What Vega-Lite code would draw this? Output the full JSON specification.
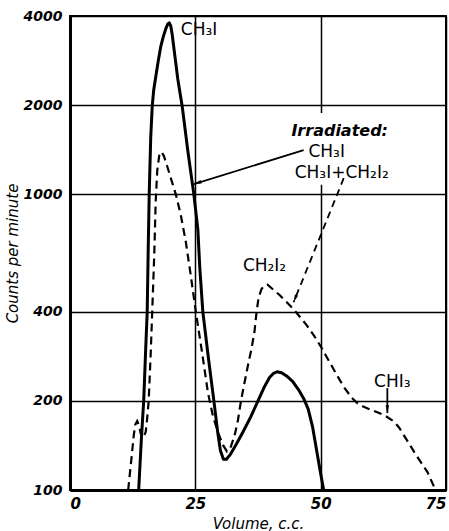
{
  "$schema": "https://vega.github.io/schema/vega-lite/v6.json",
  "width": 376,
  "height": 474,
  "autosize": {"type": "none"},
  "padding": {"left": 70, "top": 16, "right": 3, "bottom": 41},
  "background": "white",
  "config": {
    "view": {"stroke": "black", "strokeWidth": 2},
    "font": "DejaVu Sans",
    "axis": {
      "grid": true, "gridColor": "black", "gridOpacity": 1, "gridWidth": 1.5,
      "domain": true, "domainColor": "black", "domainWidth": 3,
      "ticks": false,
      "labelFont": "DejaVu Sans", "labelFontSize": 14, "labelFontWeight": "bold", "labelFontStyle": "italic", "labelColor": "black",
      "titleFont": "DejaVu Sans", "titleFontSize": 15, "titleFontWeight": "normal", "titleFontStyle": "italic", "titleColor": "black"
    }
  },
  "datasets": {
    "solid": [
      {"v": 13.7, "c": 100}, {"v": 14.2, "c": 145}, {"v": 14.7, "c": 200}, {"v": 15.1, "c": 300},
      {"v": 15.4, "c": 400}, {"v": 15.6, "c": 650}, {"v": 15.8, "c": 1000}, {"v": 16.1, "c": 1550},
      {"v": 16.4, "c": 1980}, {"v": 16.7, "c": 2250}, {"v": 17.1, "c": 2490}, {"v": 17.6, "c": 2820},
      {"v": 18.1, "c": 3150}, {"v": 18.6, "c": 3400}, {"v": 19.1, "c": 3620}, {"v": 19.5, "c": 3760},
      {"v": 19.8, "c": 3790}, {"v": 20.1, "c": 3700}, {"v": 20.4, "c": 3450}, {"v": 20.9, "c": 2950},
      {"v": 21.5, "c": 2450}, {"v": 22.4, "c": 1970}, {"v": 23.5, "c": 1400}, {"v": 24.7, "c": 1000},
      {"v": 25.5, "c": 760}, {"v": 25.9, "c": 560}, {"v": 26.5, "c": 400}, {"v": 27.6, "c": 280},
      {"v": 28.7, "c": 200}, {"v": 29.5, "c": 155}, {"v": 30.0, "c": 136}, {"v": 30.6, "c": 127},
      {"v": 31.2, "c": 127}, {"v": 32.0, "c": 132}, {"v": 33.2, "c": 143}, {"v": 34.5, "c": 157},
      {"v": 36.0, "c": 176}, {"v": 37.5, "c": 200}, {"v": 38.7, "c": 222}, {"v": 39.8, "c": 240},
      {"v": 40.6, "c": 248}, {"v": 41.3, "c": 251}, {"v": 42.2, "c": 249}, {"v": 43.2, "c": 243},
      {"v": 44.4, "c": 233}, {"v": 45.6, "c": 218}, {"v": 46.6, "c": 204}, {"v": 47.5, "c": 188},
      {"v": 48.4, "c": 163}, {"v": 49.2, "c": 136}, {"v": 49.9, "c": 116}, {"v": 50.6, "c": 100}
    ],
    "dashed": [
      {"v": 11.6, "c": 100}, {"v": 12.2, "c": 125}, {"v": 12.7, "c": 152}, {"v": 13.0, "c": 166},
      {"v": 13.4, "c": 171}, {"v": 13.8, "c": 165}, {"v": 14.1, "c": 155}, {"v": 14.6, "c": 150},
      {"v": 15.1, "c": 157}, {"v": 15.4, "c": 175}, {"v": 15.7, "c": 200}, {"v": 16.1, "c": 290},
      {"v": 16.4, "c": 400}, {"v": 16.8, "c": 620}, {"v": 17.1, "c": 950}, {"v": 17.4, "c": 1200},
      {"v": 17.8, "c": 1350}, {"v": 18.2, "c": 1390}, {"v": 18.7, "c": 1350}, {"v": 19.4, "c": 1240},
      {"v": 20.2, "c": 1120}, {"v": 21.1, "c": 1000}, {"v": 22.1, "c": 850}, {"v": 23.1, "c": 690},
      {"v": 24.1, "c": 530}, {"v": 25.1, "c": 400}, {"v": 26.3, "c": 295}, {"v": 27.5, "c": 214},
      {"v": 28.5, "c": 178}, {"v": 29.5, "c": 157}, {"v": 30.5, "c": 142}, {"v": 31.3, "c": 135},
      {"v": 32.0, "c": 139}, {"v": 32.8, "c": 152}, {"v": 33.5, "c": 172}, {"v": 34.1, "c": 200},
      {"v": 34.8, "c": 230}, {"v": 35.5, "c": 264}, {"v": 36.2, "c": 300}, {"v": 36.8, "c": 343},
      {"v": 37.2, "c": 398}, {"v": 37.6, "c": 445}, {"v": 38.2, "c": 478}, {"v": 38.8, "c": 492},
      {"v": 39.4, "c": 494}, {"v": 40.4, "c": 478}, {"v": 41.8, "c": 456}, {"v": 43.2, "c": 432},
      {"v": 44.5, "c": 410}, {"v": 45.8, "c": 386}, {"v": 47.2, "c": 361}, {"v": 48.7, "c": 332},
      {"v": 50.2, "c": 302}, {"v": 51.7, "c": 272}, {"v": 53.2, "c": 245}, {"v": 54.7, "c": 222},
      {"v": 56.2, "c": 205}, {"v": 57.4, "c": 196}, {"v": 58.6, "c": 191}, {"v": 60.6, "c": 185},
      {"v": 62.7, "c": 179}, {"v": 64.7, "c": 170}, {"v": 65.7, "c": 162}, {"v": 66.6, "c": 153},
      {"v": 67.7, "c": 143}, {"v": 68.7, "c": 134}, {"v": 70.0, "c": 124}, {"v": 71.3, "c": 115},
      {"v": 72.9, "c": 100}
    ],
    "labels": [
      {"id": "peak", "v": 22.1, "c": 3595, "t": "CH₃I"},
      {"id": "irr", "v": 53.8, "c": 1636, "t": "Irradiated:"},
      {"id": "l1", "v": 51.2, "c": 1387, "t": "CH₃I"},
      {"id": "l2", "v": 54.2, "c": 1178, "t": "CH₃I+CH₂I₂"},
      {"id": "ch2", "v": 38.8, "c": 571, "t": "CH₂I₂"},
      {"id": "chi3", "v": 64.3, "c": 232, "t": "CHI₃"}
    ],
    "box": [{"v": 43.2, "v2": 65.3, "c": 1880, "c2": 1075}],
    "arrows": [
      {"id": "a1", "v": 46.6, "c": 1408, "v2": 24.7, "c2": 1081},
      {"id": "a2", "v": 54.6, "c": 1132, "v2": 44.6, "c2": 431},
      {"id": "a3", "v": 63.3, "c": 221, "v2": 63.3, "c2": 182}
    ]
  },
  "encoding": {
    "x": {"field": "v", "type": "quantitative", "scale": {"domain": [0, 75], "nice": false, "zero": false},
      "axis": {"values": [0, 25, 50, 75], "title": "Volume, c.c.", "labelPadding": 6, "labelFontSize": 15, "titlePadding": 5}},
    "y": {"field": "c", "type": "quantitative", "scale": {"type": "log", "domain": [100, 4000], "nice": false},
      "axis": {"values": [100, 200, 400, 1000, 2000, 4000], "format": "d", "title": "Counts per minute", "labelPadding": 8, "titlePadding": 3}}
  },
  "layer": [
    {"data": {"name": "box"}, "mark": {"type": "rect", "color": "white"},
      "encoding": {"x2": {"field": "v2"}, "y2": {"field": "c2"}}},
    {"data": {"name": "solid"}, "mark": {"type": "line", "color": "black", "strokeWidth": 3, "strokeJoin": "round"}, "encoding": {}},
    {"data": {"name": "dashed"}, "mark": {"type": "line", "color": "black", "strokeWidth": 2.2, "strokeDash": [8, 5]}, "encoding": {}},
    {"data": {"name": "arrows"}, "transform": [{"filter": "datum.id !== 'a2'"}],
      "mark": {"type": "rule", "color": "black", "strokeWidth": 1.8},
      "encoding": {"x2": {"field": "v2"}, "y2": {"field": "c2"}}},
    {"data": {"name": "arrows"}, "transform": [{"filter": "datum.id === 'a2'"}],
      "mark": {"type": "rule", "color": "black", "strokeWidth": 1.8, "strokeDash": [7, 5]},
      "encoding": {"x2": {"field": "v2"}, "y2": {"field": "c2"}}},
    {"data": {"name": "arrows"}, "transform": [{"filter": "datum.id === 'a1'"}],
      "mark": {"type": "point", "shape": "M0,0L0.45,2L-0.45,2Z", "filled": true, "color": "black", "opacity": 1, "size": 60, "angle": 252},
      "encoding": {"x": {"field": "v2", "type": "quantitative"}, "y": {"field": "c2", "type": "quantitative"}}},
    {"data": {"name": "arrows"}, "transform": [{"filter": "datum.id === 'a2'"}],
      "mark": {"type": "point", "shape": "M0,0L0.45,2L-0.45,2Z", "filled": true, "color": "black", "opacity": 1, "size": 60, "angle": 202},
      "encoding": {"x": {"field": "v2", "type": "quantitative"}, "y": {"field": "c2", "type": "quantitative"}}},
    {"data": {"name": "arrows"}, "transform": [{"filter": "datum.id === 'a3'"}],
      "mark": {"type": "point", "shape": "M0,0L0.45,2L-0.45,2Z", "filled": true, "color": "black", "opacity": 1, "size": 60, "angle": 180},
      "encoding": {"x": {"field": "v2", "type": "quantitative"}, "y": {"field": "c2", "type": "quantitative"}}},
    {"data": {"name": "labels"}, "transform": [{"filter": "datum.id === 'peak'"}],
      "mark": {"type": "text", "align": "left", "baseline": "middle", "fontSize": 17, "color": "black"},
      "encoding": {"text": {"field": "t"}}},
    {"data": {"name": "labels"}, "transform": [{"filter": "datum.id === 'irr'"}],
      "mark": {"type": "text", "align": "center", "baseline": "middle", "fontSize": 16, "fontWeight": "bold", "fontStyle": "italic", "color": "black"},
      "encoding": {"text": {"field": "t"}}},
    {"data": {"name": "labels"}, "transform": [{"filter": "datum.id !== 'peak' && datum.id !== 'irr'"}],
      "mark": {"type": "text", "align": "center", "baseline": "middle", "fontSize": 17, "color": "black"},
      "encoding": {"text": {"field": "t"}}}
  ]
}
